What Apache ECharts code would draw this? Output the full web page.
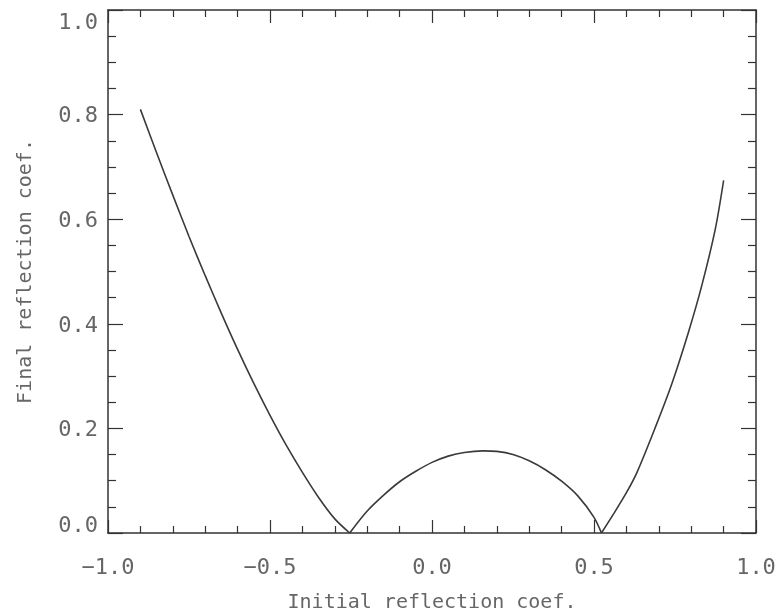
<!DOCTYPE html>
<html>
<head>
<meta charset="utf-8">
<script src="https://cdn.jsdelivr.net/npm/echarts@6/dist/echarts.min.js"></script>
<style>
html,body{margin:0;padding:0;background:#fff;}
#chart{width:777px;height:615px;}
</style>
</head>
<body>
<div id="chart"></div>
<script>
// Initial reflection coefficient (x) and final reflection coefficient (y).
// The curve has three branches that meet at the two zeros.
const leftX  = [-0.900, -0.850, -0.800, -0.750, -0.700, -0.650, -0.600, -0.550, -0.500, -0.450, -0.400, -0.350, -0.300, -0.254];
const leftY  = [ 0.810,  0.727,  0.646,  0.567,  0.492,  0.420,  0.351,  0.286,  0.225,  0.168,  0.116,  0.068,  0.027,  0.000];
const midX   = [-0.254, -0.200, -0.150, -0.100, -0.050, 0.000, 0.050, 0.100, 0.157, 0.200, 0.250, 0.300, 0.350, 0.400, 0.450, 0.500, 0.523];
const midY   = [ 0.000,  0.042,  0.072,  0.098,  0.118, 0.135, 0.147, 0.154, 0.157, 0.156, 0.150, 0.138, 0.121, 0.099, 0.071, 0.030, 0.000];
const rightX = [0.523, 0.560, 0.600, 0.632, 0.688, 0.740, 0.792, 0.833, 0.874, 0.900];
const rightY = [0.000, 0.036, 0.077, 0.115, 0.200, 0.285, 0.385, 0.474, 0.580, 0.674];
const xTicks = [-1.0, -0.5, 0.0, 0.5, 1.0];
const yTicks = [0.0, 0.2, 0.4, 0.6, 0.8, 1.0];
const xTitle = 'Initial reflection coef.';
const yTitle = 'Final reflection coef.';

const FONT = 'DejaVu Sans Mono';
const TXT = '#666';
const AX = '#333';

const pairs = (xs, ys) => xs.map((x, i) => [x, ys[i]]);

const baseText = {fontFamily: FONT, fontSize: 22, color: TXT, fontWeight: 'normal'};
const titleText = {fontFamily: FONT, fontSize: 20, color: TXT, fontWeight: 'normal'};

function xAxisOpt(pos, withLabels) {
  return {
    type: 'value', position: pos, min: xTicks[0], max: xTicks[xTicks.length - 1], interval: 0.5,
    name: withLabels ? xTitle : '', nameLocation: 'middle', nameGap: 60, nameMoveOverlap: false,
    nameTextStyle: titleText,
    axisLine: {show: true, onZero: false, lineStyle: {color: AX, width: 1.5}},
    axisTick: {show: true, inside: true, length: 13, lineStyle: {color: AX, width: 1.2}},
    minorTick: {show: true, splitNumber: 5, length: 7, lineStyle: {color: AX, width: 1.2}},
    splitLine: {show: false},
    axisLabel: withLabels ? Object.assign({}, baseText, {margin: 24, formatter: v => (v < 0 ? '\u2212' : '') + Math.abs(v).toFixed(1)}) : {show: false}
  };
}

function yAxisOpt(pos, withLabels) {
  return {
    type: 'value', position: pos, min: yTicks[0], max: yTicks[yTicks.length - 1], interval: 0.2,
    name: withLabels ? yTitle : '', nameLocation: 'middle', nameGap: 72, nameRotate: 90, nameMoveOverlap: false,
    nameTextStyle: titleText,
    axisLine: {show: true, onZero: false, lineStyle: {color: AX, width: 1.5}},
    axisTick: {show: true, inside: true, length: 15, lineStyle: {color: AX, width: 1.2}},
    minorTick: {show: true, splitNumber: 4, length: 8, lineStyle: {color: AX, width: 1.2}},
    splitLine: {show: false},
    axisLabel: withLabels ? {
      margin: 10,
      formatter: v => {
        const s = v.toFixed(1);
        if (Math.abs(v - 1) < 1e-9) return '{top|' + s + '}';
        if (Math.abs(v) < 1e-9) return '{bot|' + s + '}';
        return '{n|' + s + '}';
      },
      rich: {
        n: Object.assign({}, baseText, {padding: [4, 0, 0, 0]}),
        top: Object.assign({}, baseText, {padding: [27, 0, 0, 0]}),
        bot: Object.assign({}, baseText, {padding: [0, 0, 14, 0]})
      }
    } : {show: false}
  };
}

const lineSeries = data => ({
  type: 'line',
  data: data,
  smooth: 0.3,
  symbol: 'none',
  lineStyle: {color: '#3a3a3a', width: 1.6},
  xAxisIndex: 0,
  yAxisIndex: 0
});

const chart = echarts.init(document.getElementById('chart'), null, {renderer: 'canvas'});
chart.setOption({
  backgroundColor: '#fff',
  animation: false,
  grid: {left: 108, top: 10, width: 648, height: 523, containLabel: false, outerBoundsMode: 'none'},
  xAxis: [xAxisOpt('bottom', true), xAxisOpt('top', false)],
  yAxis: [yAxisOpt('left', true), yAxisOpt('right', false)],
  series: [
    lineSeries(pairs(leftX, leftY)),
    lineSeries(pairs(midX, midY)),
    lineSeries(pairs(rightX, rightY))
  ]
});
</script>
</body>
</html>
